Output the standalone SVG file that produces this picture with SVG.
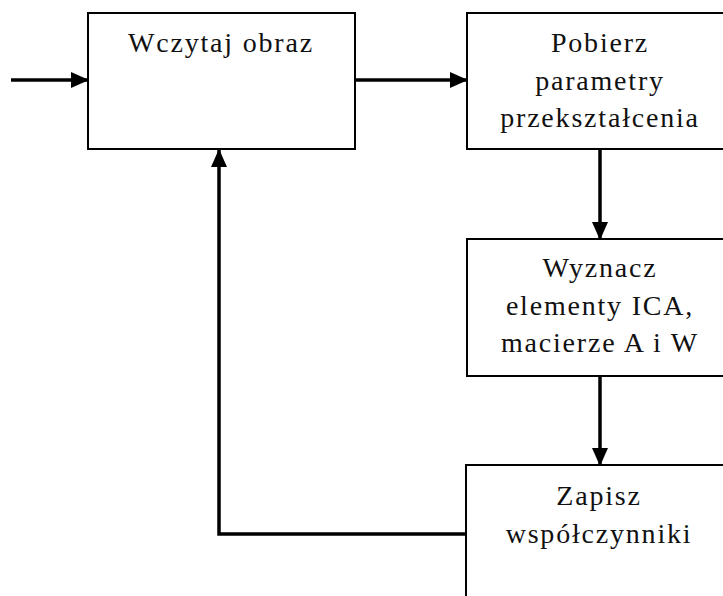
<svg xmlns="http://www.w3.org/2000/svg" width="723" height="596" viewBox="0 0 723 596">
<defs>
<marker id="ah" viewBox="0 0 18 16" refX="17" refY="8" markerWidth="18" markerHeight="16" markerUnits="userSpaceOnUse" orient="auto">
<path d="M0,0 L18,8 L0,16 Z" fill="#000"/>
</marker>
<style>
.box{fill:#fff;stroke:#000;stroke-width:2}
.t{font-family:"Liberation Serif","Times New Roman",serif;font-size:28px;letter-spacing:1.8px;fill:#111;text-anchor:middle}
.c{fill:none;stroke:#000;stroke-width:3.5;marker-end:url(#ah)}
</style>
</defs>
<rect width="723" height="596" fill="#fff"/>
<g id="connectors">
<path class="c" d="M11,80 H88"/>
<path class="c" d="M355,80 H467"/>
<path class="c" d="M600,149 V239"/>
<path class="c" d="M600,376 V465"/>
<path class="c" d="M466,534 H219 V150"/>
</g>
<g id="n1">
<rect class="box" x="88" y="13" width="267" height="136"/>
<text class="t" x="221" y="52">Wczytaj obraz</text>
</g>
<g id="n2">
<rect class="box" x="467" y="13" width="266" height="136"/>
<text class="t" x="600" y="52">Pobierz</text>
<text class="t" x="600" y="90">parametry</text>
<text class="t" x="600" y="127">przekształcenia</text>
</g>
<g id="n3">
<rect class="box" x="467" y="239" width="266" height="137"/>
<text class="t" x="600" y="277">Wyznacz</text>
<text class="t" x="600" y="315">elementy ICA,</text>
<text class="t" x="600" y="352">macierze A i W</text>
</g>
<g id="n4">
<rect class="box" x="466" y="465" width="267" height="150"/>
<text class="t" x="599" y="505">Zapisz</text>
<text class="t" x="599" y="543">współczynniki</text>
</g>
</svg>
